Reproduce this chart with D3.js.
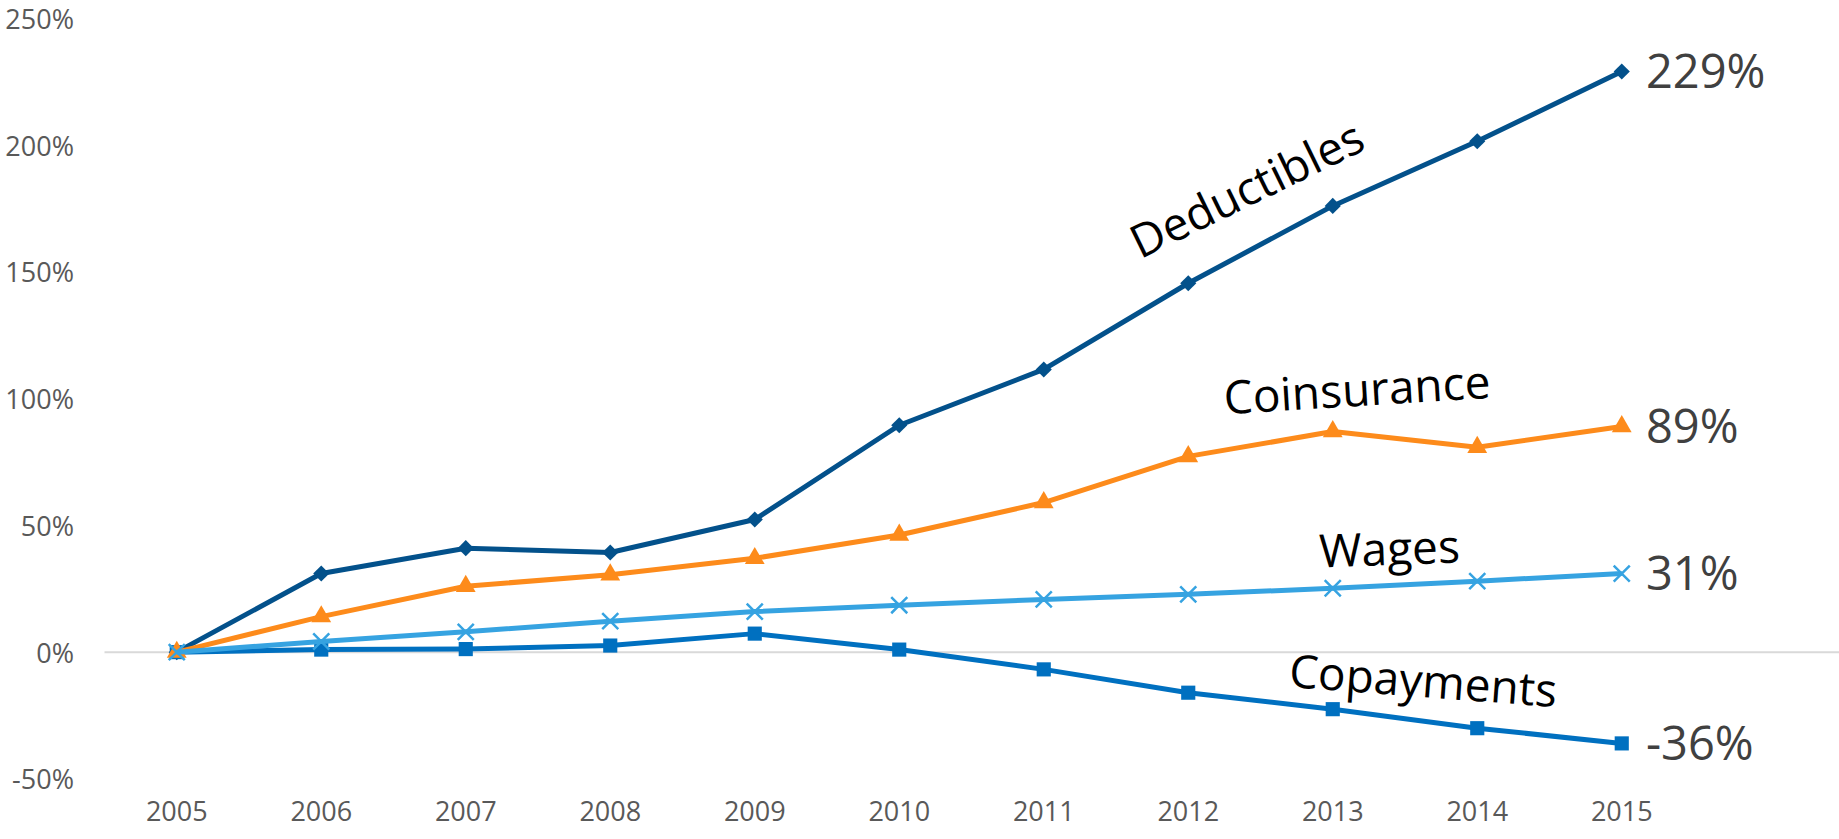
<!DOCTYPE html>
<html>
<head>
<meta charset="utf-8">
<script src="https://cdn.jsdelivr.net/npm/d3@7"></script>
<style>
    body { margin: 0; background: #fff; }
    svg { display: block; font-family: "Open Sans", "Noto Sans", sans-serif; }
</style>
</head>
<body>
<svg id="chart" width="1839" height="839"></svg>
<script>
// categories + series (percent change since 2005)
const years = ['2005','2006','2007','2008','2009','2010','2011','2012','2013','2014','2015'];
const deductibles = [0, 31, 41, 39.3, 52.3, 89.5, 111.5, 145.5, 176, 201.5, 229];
const coinsurance = [0, 14, 26, 30.5, 37, 46.2, 59, 77.2, 87, 80.8, 89];
const wages       = [0, 4.2, 8, 12.2, 16, 18.5, 20.8, 22.8, 25.2, 28, 31];
const copayments  = [0, 1, 1.2, 2.6, 7.3, 1, -6.8, -16, -22.5, -30, -36];
const yTicks = [-50, 0, 50, 100, 150, 200, 250];
const endLabels = ['229%', '89%', '31%', '-36%'];

const W = 1839, H = 839;
const font = '"Open Sans", "Noto Sans", sans-serif';
const svg = d3.select('#chart');

const x = d3.scaleBand().domain(years).range([104.5, 1694]);
const y = d3.scaleLinear().domain([-50, 250]).range([778.9, 18.3]);
const cx = d => x(d) + x.bandwidth() / 2;

// zero line only
svg.append('line')
    .attr('x1', 104.5).attr('x2', W)
    .attr('y1', y(0)).attr('y2', y(0))
    .style('stroke', '#d9d9d9').style('stroke-width', 2);

// y axis labels
const yAxis = svg.append('g')
    .attr('transform', 'translate(74,0)')
    .call(d3.axisLeft(y).tickValues(yTicks).tickSize(0).tickPadding(0).tickFormat(d => d + '%'))
    .attr('font-family', font).attr('font-size', 27);
yAxis.select('.domain').remove();
yAxis.selectAll('text').attr('fill', '#595959').attr('dy', '0.37em');

// x axis labels
const xAxis = svg.append('g')
    .attr('transform', 'translate(0,802)')
    .call(d3.axisBottom(x).tickSize(0).tickPadding(0))
    .attr('font-family', font).attr('font-size', 27);
xAxis.select('.domain').remove();
xAxis.selectAll('text').attr('fill', '#595959');

const series = [
    { name: 'Deductibles', values: deductibles, color: '#03518b', marker: 'diamond', end: endLabels[0],
      lx: 1254, ly: 204, rot: -26 },
    { name: 'Copayments', values: copayments, color: '#0070c0', marker: 'square', end: endLabels[3],
      lx: 1422, ly: 697, rot: 4.3 },
    { name: 'Coinsurance', values: coinsurance, color: '#fd8b1b', marker: 'triangle', end: endLabels[1],
      lx: 1358, ly: 406, rot: -3.5 },
    { name: 'Wages', values: wages, color: '#36a3e1', marker: 'x', end: endLabels[2],
      lx: 1390, ly: 565, rot: -2 }
];

const line = d3.line().x((d, i) => cx(years[i])).y(d => y(d));

const symbols = {
    diamond: d3.symbol().type(d3.symbolSquare).size(130),
    square: d3.symbol().type(d3.symbolSquare).size(200),
    triangle: d3.symbol().type(d3.symbolTriangle).size(170),
    x: d3.symbol().type(d3.symbolTimes).size(170)
};

series.forEach(s => {
    const g = svg.append('g');
    g.append('path')
        .datum(s.values)
        .attr('d', line)
        .style('fill', 'none')
        .style('stroke', s.color)
        .style('stroke-width', 5)
        .style('stroke-linejoin', 'round');

    g.selectAll('.pt')
        .data(s.values)
        .enter().append('path')
            .attr('d', symbols[s.marker])
            .attr('transform', (d, i) => 'translate(' + cx(years[i]) + ',' + y(d) + ')'
                + (s.marker == 'diamond' ? ' rotate(45)' : ''))
            .style('fill', s.marker == 'x' ? 'none' : s.color)
            .style('stroke', s.color)
            .style('stroke-width', s.marker == 'x' ? 2.5 : 0);

    // series name
    svg.append('text')
        .attr('transform', 'translate(' + s.lx + ',' + s.ly + ') rotate(' + s.rot + ')')
        .attr('text-anchor', 'middle')
        .style('font-size', '46px')
        .style('fill', '#000')
        .text(s.name);

    // end value
    const last = s.values[s.values.length - 1];
    svg.append('text')
        .attr('x', 1646)
        .attr('y', y(last))
        .attr('dy', '0.36em')
        .style('font-size', '47px')
        .style('fill', '#404040')
        .text(s.end);
});
</script>
</body>
</html>
